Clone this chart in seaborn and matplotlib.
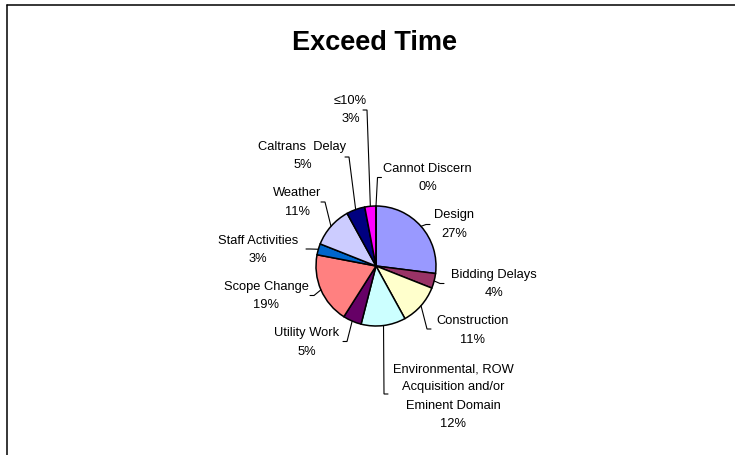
import numpy as np
import matplotlib
matplotlib.use("Agg")
import matplotlib.pyplot as plt
from matplotlib.lines import Line2D
import seaborn as sns

# Causes of projects exceeding their time, share of projects (%)
categories = [
    "Design",
    "Bidding Delays",
    "Construction",
    "Environmental, ROW\nAcquisition and/or\nEminent Domain",
    "Utility Work",
    "Scope Change",
    "Staff Activities",
    "Weather",
    "Caltrans  Delay",
    "\u226410%",
    "Cannot Discern",
]
percents = [27, 4, 11, 12, 5, 19, 3, 11, 5, 3, 0]
colors = [
    "#9999FF", "#993366", "#FFFFCC", "#CCFFFF", "#660066", "#FF8080",
    "#0066CC", "#CCCCFF", "#000080", "#FF00FF", "#FFFF00",
]

sns.set_theme(style="white")
plt.rcParams["font.family"] = ["Liberation Sans", "DejaVu Sans"]

W, H = 735, 456
CX, CY, R = 376, 267, 60  # pie centre and radius in pixels


def to_data(px, py):
    return (px - CX) / R, (CY - py) / R


fig = plt.figure(figsize=(W / 100, H / 100), dpi=100)
fig.patch.set_facecolor("white")
ax = fig.add_axes([0, 0, 1, 1])

wedges, _ = ax.pie(
    percents,
    colors=colors,
    startangle=90,
    counterclock=False,
    radius=1.0,
    wedgeprops=dict(edgecolor="black", linewidth=1.1),
)
ax.set_xlim(-CX / R, (W - CX) / R)
ax.set_ylim(-(H - CY) / R, CY / R)
ax.set_aspect("auto")
ax.axis("off")

# label block centres and leader hooks (pixels); tick direction toward label
label_pos = [
    (454, 224.5), (494, 284), (472.5, 330.5), (453, 396.5), (307, 342.5),
    (266.5, 296), (258, 250), (297, 202.5), (302.5, 156), (350.5, 110.4),
    (427.5, 178.3),
]
hooks = [
    (426, 225.5, 1), (440, 284.5, 1), (427, 330, 1), (384, 395, 1),
    (347, 342.5, -1), (314, 296.5, -1), (310, 250, -1), (325, 203, -1),
    (349, 158, -1), (367, 111, -1), (377.5, 178.5, 1),
]

for w, name, pct, (lx, ly), (hx, hy, d) in zip(
        wedges, categories, percents, label_pos, hooks):
    mid = np.deg2rad((w.theta1 + w.theta2) / 2)
    ex, ey = np.cos(mid), np.sin(mid)
    hxd, hyd = to_data(hx, hy)
    tx, _ = to_data(hx + 4 * d, hy)
    ax.plot([ex, hxd, tx], [ey, hyd, hyd], color="black", lw=0.8,
            solid_joinstyle="miter")
    tx0, ty0 = to_data(lx, ly)
    ax.text(tx0, ty0, f"{name}\n{pct}%", ha="center", va="center",
            multialignment="center", fontsize=9.3, color="black",
            linespacing=1.68)

fig.text(374 / W, 1 - 43 / H, "Exceed Time", ha="center", va="center",
         fontsize=19.5, fontweight="bold", color="black")

# chart area frame (top and left edges visible)
fig.add_artist(Line2D([7 / W, 1.0], [1 - 6 / H, 1 - 6 / H],
                      transform=fig.transFigure, color="black", lw=1.1))
fig.add_artist(Line2D([7 / W, 7 / W], [1 - 6 / H, 0.0],
                      transform=fig.transFigure, color="black", lw=1.1))

fig.savefig("out.png", dpi=100, facecolor="white")
